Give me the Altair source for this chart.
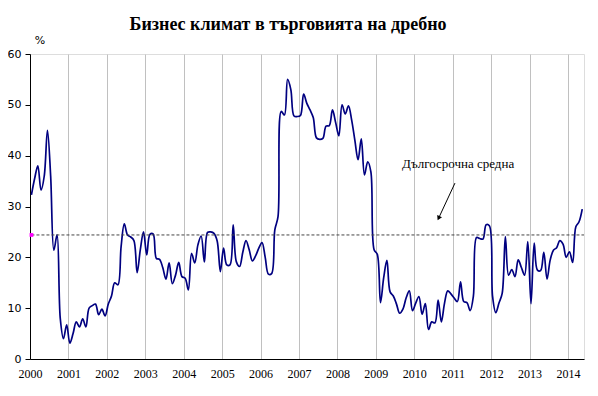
import altair as alt
import pandas as pd

# Monthly values, Jan 2000 .. May 2014 (%)
y2000 = [32.3, 35.5, 38.0, 33.2, 36.0, 45.0, 36.0, 21.4, 24.4, 8.0, 4.0, 6.7]
y2001 = [3.1, 5.0, 7.3, 6.3, 7.9, 6.3, 10.0, 10.5, 10.8, 8.7, 9.8, 8.5]
y2002 = [10.8, 12.4, 15.0, 14.6, 22.1, 26.6, 24.4, 24.0, 23.3, 17.0, 21.5, 25.0]
y2003 = [20.5, 24.5, 24.6, 19.8, 19.6, 18.0, 15.7, 18.9, 14.8, 16.5, 19.0, 16.2]
y2004 = [15.9, 13.6, 20.8, 18.9, 22.5, 24.2, 19.1, 24.9, 25.0, 24.7, 23.2, 17.2]
y2005 = [21.8, 18.5, 18.5, 26.4, 19.1, 18.2, 21.0, 23.3, 21.5, 19.3, 20.3, 21.8]
y2006 = [22.9, 20.0, 16.7, 16.8, 25.4, 28.0, 48.7, 48.0, 55.0, 53.0, 47.8, 47.7]
y2007 = [47.9, 52.1, 50.3, 49.0, 47.5, 43.5, 43.2, 43.4, 45.8, 45.9, 49.0, 46.5]
y2008 = [43.9, 50.0, 48.2, 49.8, 47.0, 43.0, 39.2, 43.3, 36.2, 38.8, 36.8, 21.5]
y2009 = [20.6, 11.1, 16.0, 19.4, 13.2, 12.4, 10.8, 9.0, 9.8, 12.0, 13.4, 9.5]
y2010 = [11.0, 12.3, 8.8, 10.9, 5.8, 7.3, 7.1, 11.6, 7.3, 11.0, 13.4, 12.8]
y2011 = [12.0, 11.3, 15.2, 11.3, 11.1, 9.5, 12.3, 23.9, 23.7, 23.6, 26.4, 26.2]
y2012 = [12.3, 9.1, 11.0, 12.9, 24.1, 16.5, 17.6, 16.2, 19.5, 18.0, 16.5, 23.1]
y2013 = [10.9, 22.8, 17.5, 17.4, 21.0, 15.7, 19.5, 21.4, 21.9, 23.3, 22.6, 20.0]
y2014 = [21.1, 19.0, 26.0, 27.0, 29.5]

long_term_avg = 24.4
years = list(range(2000, 2015))
title_text = "Бизнес климат в търговията на дребно"
ann_text = "Дългосрочна средна"

values = (y2000 + y2001 + y2002 + y2003 + y2004 + y2005 + y2006 + y2007
          + y2008 + y2009 + y2010 + y2011 + y2012 + y2013 + y2014)
df = pd.DataFrame({"t": [i + 0.45 for i in range(len(values))], "v": values})

X_MAX = 173.0
xscale = alt.Scale(domain=[0, X_MAX], nice=False, zero=False)
yscale = alt.Scale(domain=[0, 60], nice=False)

xaxis = alt.Axis(values=[(y - 2000) * 12 for y in years],
                 labelExpr="2000 + datum.value/12", title=None,
                 grid=True, gridColor="#c0c0c0", gridWidth=1,
                 ticks=False, domainColor="#000000", domainWidth=1,
                 labelFont="Liberation Serif", labelFontSize=12,
                 labelColor="#000000", labelPadding=9, labelFlush=False,
                 labelOverlap=False)
yaxis = alt.Axis(values=[0, 10, 20, 30, 40, 50, 60], title=None, grid=False,
                 domainColor="#000000", tickColor="#000000", tickSize=5,
                 labelFont="DejaVu Sans", labelFontSize=11,
                 labelColor="#000000", labelPadding=4)


def X(field):
    return alt.X(field, scale=xscale, axis=xaxis)


def Y(field):
    return alt.Y(field, scale=yscale, axis=yaxis)


line = alt.Chart(df).mark_line(color="#000080", strokeWidth=1.7,
                               interpolate="catmull-rom").encode(
    x=X("t:Q"), y=Y("v:Q"))

avg_df = pd.DataFrame({"x1": [0.45], "x2": [X_MAX], "y": [long_term_avg]})
avg = alt.Chart(avg_df).mark_rule(color="#444444", strokeDash=[3, 2],
                                  strokeWidth=1).encode(
    x=X("x1:Q"), x2="x2:Q", y=Y("y:Q"))
avg_pt = alt.Chart(avg_df).mark_square(color="#ff00ff", size=14,
                                       opacity=1).encode(
    x=X("x1:Q"), y=Y("y:Q"))

ann_df = pd.DataFrame({"text": [ann_text], "x": [133.7], "y": [38.3]})
ann = alt.Chart(ann_df).mark_text(font="Liberation Serif", fontSize=13,
                                  color="#000000").encode(
    x=X("x:Q"), y=Y("y:Q"), text="text:N")

arr_df = pd.DataFrame({"x": [132.7], "y": [34.6], "x2": [127.6], "y2": [27.7]})
arrow = alt.Chart(arr_df).mark_rule(color="#000000", strokeWidth=1).encode(
    x=X("x:Q"), y=Y("y:Q"), x2="x2:Q", y2="y2:Q")
head = alt.Chart(arr_df).mark_point(shape="triangle-up", angle=205, filled=True,
                                    size=28, color="#000000", opacity=1).encode(
    x=X("x2:Q"), y=Y("y2:Q"))

title_df = pd.DataFrame({"t": [title_text]})
title = alt.Chart(title_df).mark_text(font="Liberation Serif", fontSize=18,
                                      fontWeight="bold", color="#000000",
                                      baseline="middle").encode(
    x=alt.value(258), y=alt.value(-29), text="t:N")

pct_df = pd.DataFrame({"t": ["%"]})
pct = alt.Chart(pct_df).mark_text(font="DejaVu Sans", fontSize=11,
                                  color="#000000", baseline="middle").encode(
    x=alt.value(10), y=alt.value(-13), text="t:N")

chart = alt.layer(line, avg, avg_pt, arrow, head, ann, title, pct).properties(
    width=554, height=305,
    autosize=alt.AutoSizeParams(type="none"),
    padding={"left": 22, "top": 46, "right": 6, "bottom": 28},
).configure_view(stroke="#a0a0a0", strokeWidth=1).configure(background="#ffffff")

chart.save("out.html", embed_options={"renderer": "svg", "actions": False})
